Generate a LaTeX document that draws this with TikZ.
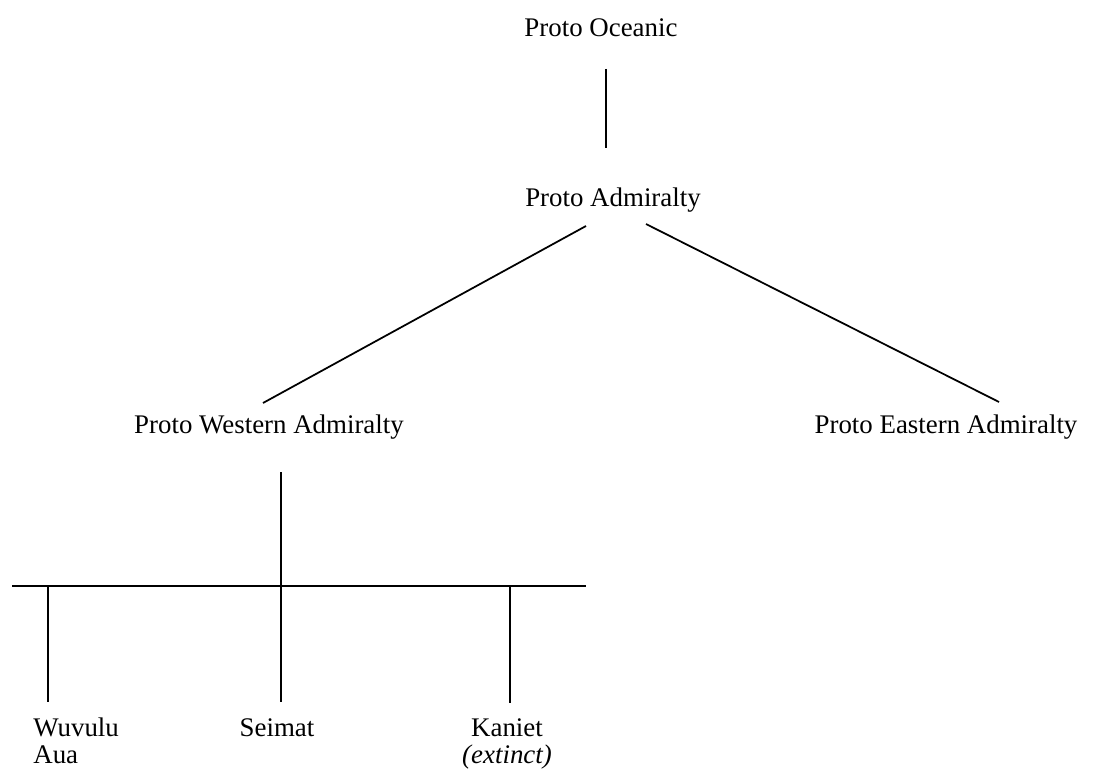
\documentclass[tikz,border=0pt]{standalone}
\usepackage{fontspec}
\setmainfont{Liberation Serif}
\usetikzlibrary{positioning}
\usetikzlibrary{calc}

\begin{document}
\begin{tikzpicture}[x=0.02cm, y=-0.02cm,
  lang/.style={font=\fontsize{15.3}{15}\selectfont, inner sep=0pt, anchor=base},
  branch/.style={line width=1pt}]
\useasboundingbox (0,0) rectangle (1095,773);
\node[lang] (oceanic) at (601,37) {Proto Oceanic};
\node[lang] (admiralty) at (613,207) {Proto Admiralty};
\node[lang] (western) at (269,433) {Proto Western Admiralty};
\node[lang] (eastern) at (946,433) {Proto Eastern Admiralty};
\node[lang, align=left, anchor=base west] (wuvulu) at (33,763) {Wuvulu\\Aua};
\node[lang] (seimat) at (277,736.5) {Seimat};
\node[lang, align=center] (kaniet) at (507,763) {Kaniet\\\textit{(extinct)}};
\coordinate (bar west) at (12,586);
\coordinate (bar east) at (586,586);
\coordinate (wuvulu drop) at ($(wuvulu.base west)+(15,-61)$);
\coordinate (kaniet drop) at ($(kaniet.base)+(3,-60)$);
\draw[branch] ($(oceanic.base)+(5,32)$) -- ($(admiralty.base)+(-7,-59)$);
\draw[branch] ($(admiralty.base)+(-27,19)$) -- ($(western.base)+(-6,-30)$);
\draw[branch] ($(admiralty.base)+(33,17)$) -- ($(eastern.base)+(53,-31)$);
\draw[branch] ($(western.base)+(12,39)$) -- ($(seimat.base)+(4,-34.5)$);
\draw[branch] (bar west) -- (bar east);
\draw[branch] (wuvulu drop |- bar west) -- (wuvulu drop);
\draw[branch] (kaniet drop |- bar east) -- (kaniet drop);
\end{tikzpicture}
\end{document}
